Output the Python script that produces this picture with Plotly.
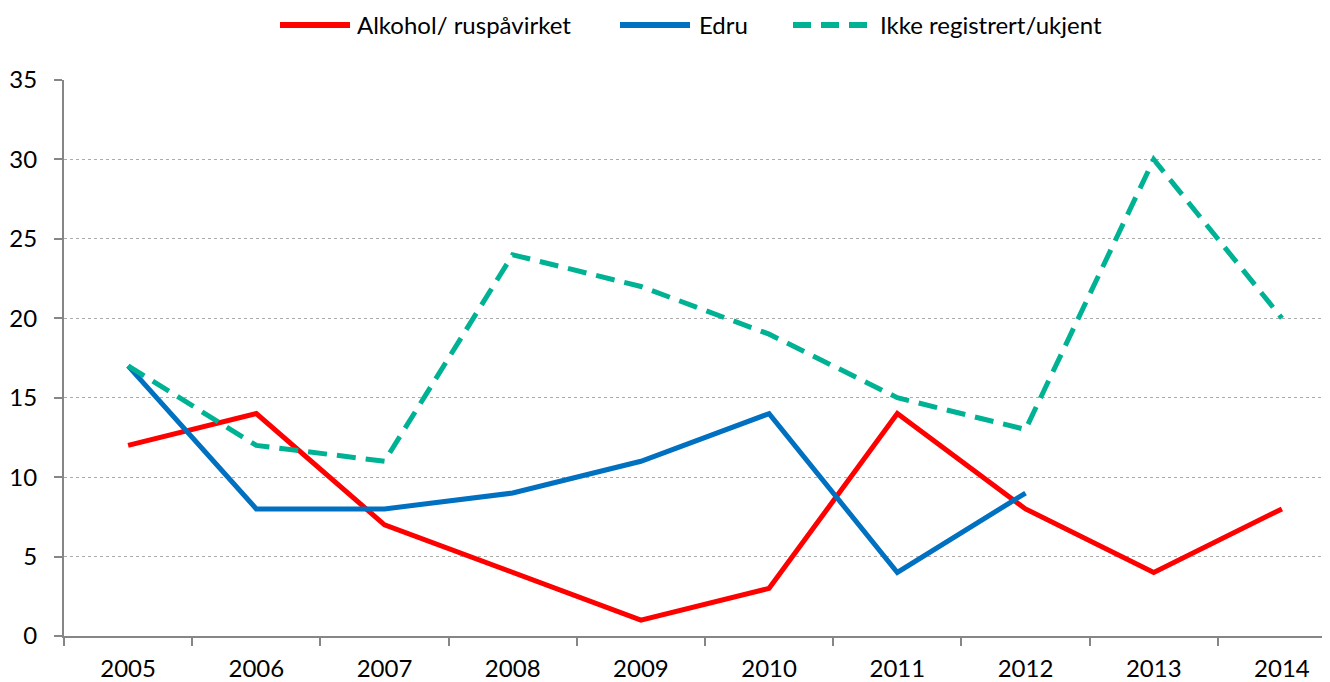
import plotly.graph_objects as go

years = ["2005", "2006", "2007", "2008", "2009", "2010", "2011", "2012", "2013", "2014"]
alkohol = [12, 14, 7, 4, 1, 3, 14, 8, 4, 8]
edru = [17, 8, 8, 9, 11, 14, 4, 9, None, None]
ikke = [17, 12, 11, 24, 22, 19, 15, 13, 30, 20]
y_ticks = [0, 5, 10, 15, 20, 25, 30, 35]

names = ["Alkohol/ ruspåvirket", "Edru", "Ikke registrert/ukjent"]
colors = ["#FF0000", "#0070C0", "#00B294"]
dashes = ["solid", "solid", "19px,10px"]

FONT = "Lato, Carlito, Calibri, sans-serif"
OFF = 8  # default page body margin
W, H = 1330 - OFF, 682 - OFF
# plot area in page pixels: left 64, top 80, bottom 636, right edge of window
L, T = 64 - OFF, 80 - OFF
R = 0
B = H - (636 - OFF)

fig = go.Figure()
for name, vals, col, dsh in zip(names, [alkohol, edru, ikke], colors, dashes):
    fig.add_trace(go.Scatter(x=years, y=vals, mode="lines", name=name, showlegend=False,
                             line=dict(color=col, width=5, dash=dsh)))

# custom legend (line sample + text); positions given in page pixels
pw, ph = W - L - R, H - T - B
def px_x(p):
    return (p - OFF - L) / pw
def px_y(p):
    return 1 + (T - (p - OFF)) / ph

legend_items = [(280, 350, 355), (620, 690, 697), (793, 868, 878)]
for (x0, x1, tx), name, col, dsh in zip(legend_items, names, colors, dashes):
    fig.add_shape(type="line", xref="paper", yref="paper",
                  x0=px_x(x0), x1=px_x(x1), y0=px_y(25), y1=px_y(25),
                  line=dict(color=col, width=6, dash=("18px,10px" if dsh != "solid" else dsh)))
    fig.add_annotation(xref="paper", yref="paper", x=px_x(tx), y=px_y(25),
                       text=name, showarrow=False, xanchor="left", yanchor="middle",
                       font=dict(family=FONT, size=24, color="black"))

fig.update_layout(
    width=W, height=H,
    margin=dict(l=L, r=R, t=T, b=B),
    paper_bgcolor="white", plot_bgcolor="white",
    font=dict(family=FONT, size=24, color="black"),
    showlegend=False,
    xaxis=dict(type="category", range=[-0.5, 9.375], tickson="boundaries",
               ticks="outside", ticklen=8, tickcolor="#868686", tickwidth=2,
               showline=True, linecolor="#868686", linewidth=2,
               showgrid=False, zeroline=False, tickfont=dict(size=24),
               ticklabelstandoff=10, automargin=False),
    yaxis=dict(range=[0, 35], tickvals=y_ticks, ticks="outside", ticklen=8,
               tickcolor="#868686", tickwidth=2,
               showline=True, linecolor="#868686", linewidth=2,
               showgrid=True, gridcolor="#ABABAB", gridwidth=1, griddash="dot",
               zeroline=False, tickfont=dict(size=24),
               ticklabelstandoff=12, automargin=False),
)
fig.write_html("out.html")
